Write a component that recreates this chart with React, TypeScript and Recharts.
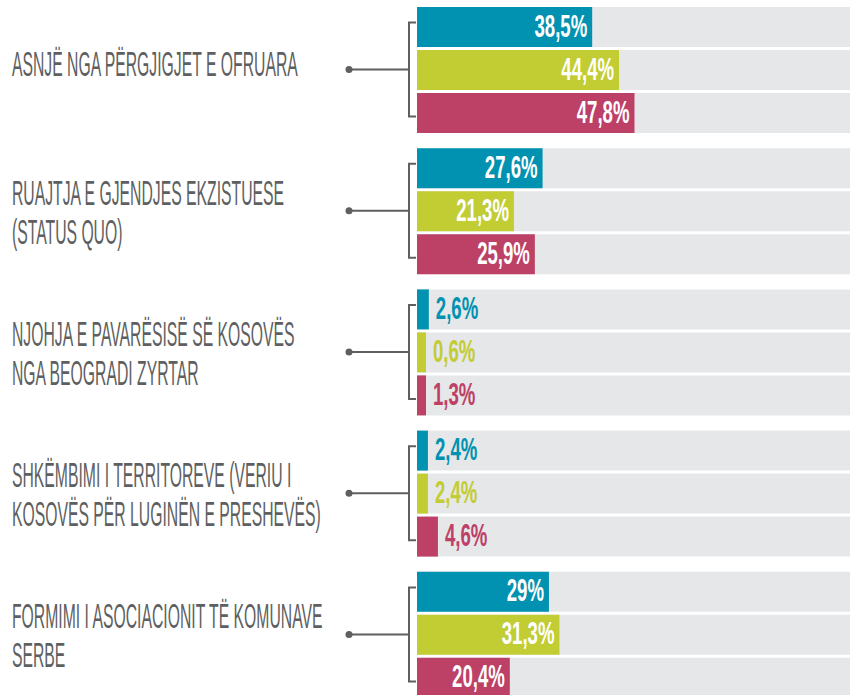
import { BarChart, Bar, XAxis, YAxis, LabelList } from 'recharts';

const categories = [
  'ASNJË NGA PËRGJIGJET E OFRUARA',
  'RUAJTJA E GJENDJES EKZISTUESE\n(STATUS QUO)',
  'NJOHJA E PAVARËSISË SË KOSOVËS\nNGA BEOGRADI ZYRTAR',
  'SHKËMBIMI I TERRITOREVE (VERIU I\nKOSOVËS PËR LUGINËN E PRESHEVËS)',
  'FORMIMI I ASOCIACIONIT TË KOMUNAVE\nSERBE',
];
const seriesA = [38.5, 27.6, 2.6, 2.4, 29];
const seriesB = [44.4, 21.3, 0.6, 2.4, 31.3];
const seriesC = [47.8, 25.9, 1.3, 4.6, 20.4];

const data = categories.map((name, i) => ({
  name,
  a: seriesA[i],
  b: seriesB[i],
  c: seriesC[i],
}));

const TEAL = '#0092b0';
const LIME = '#c2cc33';
const ROSE = '#bd4067';
const GREY_BG = '#e6e7e9';
const INK = '#5e5f61';
const FONT = '"Liberation Sans", Arial, sans-serif';

const fmt = (v: number) => `${String(v).replace('.', ',')}%`;

function CategoryTick(props: any) {
  const { x, y, payload } = props;
  const lines: string[] = String(payload.value).split('\n');
  const first = lines.length > 1 ? y - 6 : y + 6.5;
  return (
    <g>
      {lines.map((ln, i) => (
        <text
          key={i}
          transform={`translate(${x - 405},${first + i * 39}) scale(0.45,1)`}
          fill={INK}
          fontFamily={FONT}
          fontSize={35}
        >
          {ln}
        </text>
      ))}
      <circle cx={x - 68} cy={y} r={3.5} fill={INK} />
      <line x1={x - 68} y1={y} x2={x - 8} y2={y} stroke={INK} strokeWidth={2} />
      <polyline
        points={`${x - 1},${y - 47} ${x - 8},${y - 47} ${x - 8},${y + 47} ${x - 1},${y + 47}`}
        fill="none"
        stroke={INK}
        strokeWidth={2}
      />
    </g>
  );
}

const valueLabel = (color: string) => (props: any) => {
  const { x, y, width, height, value } = props;
  const inside = value >= 10;
  const tx = inside ? x + width - 5 : x + width + 7;
  return (
    <text
      transform={`translate(${tx},${y + height / 2 + 9.5}) scale(0.6,1)`}
      textAnchor={inside ? 'end' : 'start'}
      fill={inside ? '#ffffff' : color}
      fontFamily={FONT}
      fontWeight="bold"
      fontSize={31}
    >
      {fmt(value)}
    </text>
  );
};

export default function App() {
  return (
    <>
      <style>{'html,body{margin:0;overflow:hidden;background:#fff}'}</style>
      <div style={{ position: 'absolute', left: 0, top: -1, width: 850, height: 696, overflow: 'hidden' }}>
        <BarChart
          width={872}
          height={706}
          data={data}
          layout="vertical"
          margin={{ top: 0, right: 0, bottom: 0, left: 0 }}
          barSize={40}
          barGap={3}
        >
          <XAxis type="number" domain={[0, 100]} hide />
          <YAxis
            type="category"
            dataKey="name"
            width={417}
            axisLine={false}
            tickLine={false}
            tickSize={0}
            tickMargin={0}
            interval={0}
            tick={<CategoryTick />}
          />
          <Bar dataKey="a" fill={TEAL} background={{ fill: GREY_BG }} minPointSize={9} isAnimationActive={false}>
            <LabelList dataKey="a" content={valueLabel(TEAL)} />
          </Bar>
          <Bar dataKey="b" fill={LIME} background={{ fill: GREY_BG }} minPointSize={9} isAnimationActive={false}>
            <LabelList dataKey="b" content={valueLabel(LIME)} />
          </Bar>
          <Bar dataKey="c" fill={ROSE} background={{ fill: GREY_BG }} minPointSize={9} isAnimationActive={false}>
            <LabelList dataKey="c" content={valueLabel(ROSE)} />
          </Bar>
        </BarChart>
      </div>
    </>
  );
}
